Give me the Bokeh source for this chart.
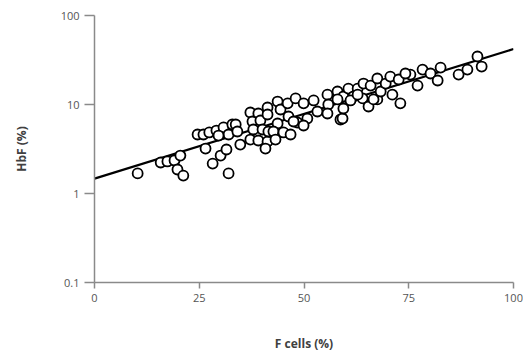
from bokeh.plotting import figure
from bokeh.models import ColumnDataSource, FixedTicker
from bokeh.embed import file_html
from bokeh.resources import INLINE

# F cells (%) and HbF (%) for each patient
f_cells = [10.3, 15.8, 17.4, 19.1, 20.5, 19.8, 21.2, 24.6, 26.0, 27.4, 29.1, 30.8, 32.9, 32.0,
           26.5, 28.2, 30.1, 31.5, 32.0, 33.7, 37.2, 39.1, 41.3, 43.7, 37.7, 39.6, 37.9, 40.1,
           37.2, 39.1, 41.3, 41.5, 40.8, 34.1, 44.4, 46.1, 48.0, 49.9, 52.3, 53.2, 55.6, 55.8,
           58.0, 59.4, 60.6, 61.8, 62.8, 64.0, 64.2, 65.9, 67.5, 65.4, 67.5, 55.6, 58.7, 50.8,
           46.3, 48.4, 43.7, 42.7, 45.1, 46.8, 43.2, 41.3, 47.5, 49.9, 59.2, 58.0, 61.1, 66.6,
           68.3, 69.5, 70.6, 72.6, 71.1, 73.0, 75.4, 78.3, 80.2, 82.6, 81.9, 77.1, 86.9, 89.0,
           91.4, 92.4, 74.2, 34.8, 29.6, 59.4, 62.8]
hbf = [1.68, 2.23, 2.29, 2.35, 2.67, 1.86, 1.59, 4.6, 4.6, 4.85, 5.1, 5.52, 5.96, 4.6,
       3.2, 2.17, 2.67, 3.12, 1.68, 5.96, 8.13, 7.92, 9.25, 10.8, 6.44, 6.61, 5.24, 5.24,
       4.04, 3.94, 3.84, 4.97, 3.2, 4.97, 8.79, 10.3, 11.7, 10.3, 11.1, 8.34, 12.9, 10.0,
       14.0, 12.3, 15.1, 12.3, 15.1, 11.7, 17.2, 16.3, 19.6, 9.5, 11.4, 7.92, 6.78, 6.96,
       7.33, 6.28, 6.12, 4.97, 4.85, 4.6, 4.04, 7.72, 6.44, 5.81, 6.96, 11.4, 11.1, 11.4,
       14.0, 17.2, 20.6, 19.1, 12.9, 10.3, 21.7, 24.7, 22.3, 26.0, 18.6, 16.3, 21.7, 24.7,
       34.6, 26.7, 22.3, 3.55, 4.48, 9.02, 12.9]

# Regression line end points
fit_x = [0, 100]
fit_y = [1.47, 42.0]

x_ticks = [0, 25, 50, 75, 100]
y_ticks = [0.1, 1, 10, 100]
y_tick_labels = ["0.1", "1", "10", "100"]

FONT = "Open Sans"
AXIS_COLOR = "#8a8a8a"

p = figure(width=523, height=356, x_range=(0, 100), y_range=(0.1, 100),
           y_axis_type="log", output_backend="svg", toolbar_location=None,
           min_border_left=94, min_border_right=10, min_border_top=15,
           min_border_bottom=74)
p.outline_line_color = None
p.xgrid.visible = False
p.ygrid.visible = False
p.background_fill_color = "white"
p.border_fill_color = "white"

p.line(fit_x, fit_y, line_color="black", line_width=2.2)
src = ColumnDataSource(dict(x=f_cells, y=hbf))
p.scatter("x", "y", source=src, size=10, fill_color="white",
          line_color="black", line_width=1.8)

xa = p.xaxis[0]
xa.ticker = FixedTicker(ticks=x_ticks)
xa.axis_label = "F cells (%)"
xa.axis_label_standoff = 30

ya = p.yaxis[0]
ya.ticker = FixedTicker(ticks=y_ticks)
ya.major_label_overrides = {t: l for t, l in zip(y_ticks, y_tick_labels)}
ya.axis_label = "HbF (%)"
ya.axis_label_standoff = 28

for ax, tick_out in ((xa, 6), (ya, 10)):
    ax.axis_line_color = AXIS_COLOR
    ax.axis_line_width = 1.5
    ax.major_tick_line_color = AXIS_COLOR
    ax.major_tick_line_width = 1.5
    ax.major_tick_out = tick_out
    ax.major_tick_in = 0
    ax.minor_tick_line_color = None
    ax.major_label_text_font = FONT
    ax.major_label_text_font_size = "11px"
    ax.major_label_text_color = "#555555"
    ax.major_label_standoff = 5
    ax.axis_label_text_font = FONT
    ax.axis_label_text_font_size = "12px"
    ax.axis_label_text_font_style = "bold"
    ax.axis_label_text_color = "#404040"

open("out.html", "w").write(file_html(p, INLINE))
